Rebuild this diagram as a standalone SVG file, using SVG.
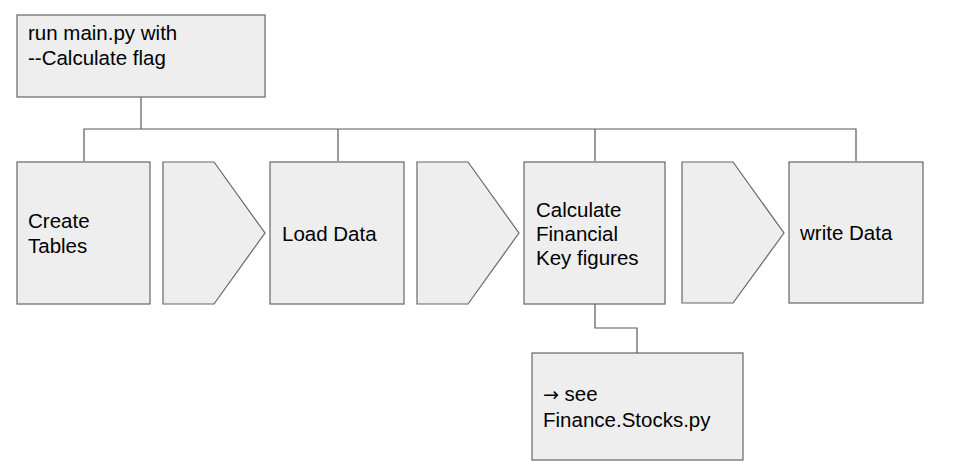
<svg xmlns="http://www.w3.org/2000/svg" width="973" height="467" viewBox="0 0 973 467">
<style>
.box{fill:#eeeeee;stroke:#666666;stroke-width:1.2}
.ln{fill:none;stroke:#595959;stroke-width:1.2}
text{font-family:"Liberation Sans",Arial,sans-serif;font-size:20.5px;fill:#000000}
.arw{font-family:"DejaVu Sans",sans-serif;font-size:19px}
</style>
<rect width="973" height="467" fill="#ffffff"/>
<g id="connectors">
<path class="ln" d="M141,97 V129 M84,161 V129 H856 V161 M338,129 V161 M595,129 V161"/>
<path class="ln" d="M595,304 V328 H637 V353"/>
</g>
<g id="n-main">
<rect class="box" x="17" y="15" width="248" height="82"/>
<text x="28" y="40">run main.py with</text>
<text x="28" y="65">--Calculate flag</text>
</g>
<g id="n-create">
<rect class="box" x="17" y="162" width="133" height="142"/>
<text x="28" y="228">Create</text>
<text x="28" y="253">Tables</text>
</g>
<g id="n-arrow1">
<polygon class="box" points="163,162 214,162 265,233 214,304 163,304"/>
</g>
<g id="n-load">
<rect class="box" x="270" y="162" width="134" height="142"/>
<text x="282" y="241">Load Data</text>
</g>
<g id="n-arrow2">
<polygon class="box" points="417,162 468,162 519,233 468,304 417,304"/>
</g>
<g id="n-calc">
<rect class="box" x="524" y="162" width="141" height="142"/>
<text x="536" y="217">Calculate</text>
<text x="536" y="241">Financial</text>
<text x="536" y="265">Key figures</text>
</g>
<g id="n-arrow3">
<polygon class="box" points="682,162 733,162 784,233 733,303 682,303"/>
</g>
<g id="n-write">
<rect class="box" x="789" y="162" width="134" height="141"/>
<text x="800" y="240">write Data</text>
</g>
<g id="n-see">
<rect class="box" x="532" y="353" width="211" height="107"/>
<text x="543" y="401"><tspan class="arw">→</tspan> see</text>
<text x="543" y="427">Finance.Stocks.py</text>
</g>
</svg>
